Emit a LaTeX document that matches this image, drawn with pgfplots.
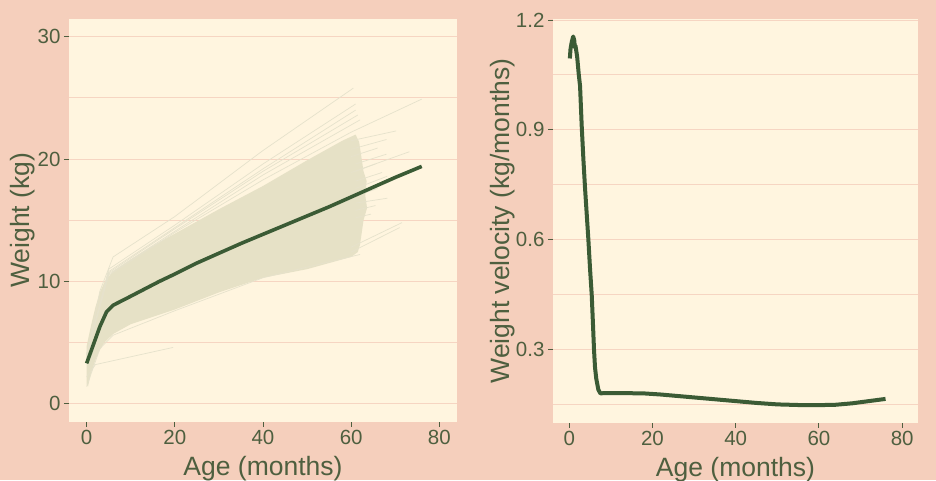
\documentclass[border=0pt]{standalone}
\usepackage{pgfplots}
\pgfplotsset{compat=1.18}
\usepackage{fontspec}
\setmainfont{Liberation Sans}
\definecolor{bgc}{HTML}{F5CFBC}
\definecolor{panel}{HTML}{FFF5DF}
\definecolor{gridc}{HTML}{F6D5C2}
\definecolor{txt}{HTML}{4E5F3F}
\definecolor{meanc}{HTML}{3B5B35}
\definecolor{band}{HTML}{E6E1C6}
\definecolor{strand}{HTML}{E6E2CC}
\begin{document}
\begin{tikzpicture}
\useasboundingbox (0pt,0pt) rectangle (936pt,480pt);
\fill[bgc] (0pt,0pt) rectangle (936pt,480pt);
\pgfplotsset{common/.style={scale only axis, anchor=south west,
  axis background/.style={fill=panel}, axis line style={draw=none},
  tick align=outside, major tick length=5pt, minor tick length=0pt,
  tick style={txt, line width=1pt}, xtick pos=bottom, ytick pos=left,
  ymajorgrids, yminorgrids, xmajorgrids=false,
  grid style={gridc, line width=1pt}, minor grid style={gridc, line width=1pt},
  ticklabel style={font=\fontsize{20.5}{24}\selectfont, text=txt},
  label style={font=\fontsize{26.5}{30}\selectfont, text=txt},
  /pgf/number format/assume math mode=true,
  xtick={0,20,40,60,80}, xlabel={Age (months)},
  xlabel style={at={(axis description cs:0.5,0)}, anchor=base, yshift=-53.3pt},
  clip=true}}
\begin{axis}[common, at={(69pt,58.3pt)}, width=388pt, height=402.7pt,
  xmin=-4, xmax=84, ymin=-1.47, ymax=31.45,
  ytick={0,10,20,30}, minor ytick={5,15,25},
  ylabel={Weight (kg)},
  ylabel style={at={(axis description cs:0,0.5)}, anchor=base, yshift=39.5pt}]
\addplot[fill=band, draw=none] coordinates {
(0,4.7) (1,6.4) (2,7.9) (3,9.1) (4,9.9) (5,10.4) (6,10.8) (8,11.3) (10,11.8) (15,12.9) (20,13.9) (30,15.9) (40,17.8) (50,19.9) (58,21.5) (61,22.0) (61.8,21.4) (62.3,20.2) (62.8,19.0) (63.5,18.2) (63.2,17.0) (63.6,16.0) (62.8,15.0) (62.4,14.0) (62,13.0) (61.5,12.4)
(60,12.0) (50,11.0) (40,10.3) (30,9.1) (20,7.7) (10,6.5) (6,5.7) (4,5.0) (3,4.4) (2,3.6) (1,2.5) (0.3,1.4) (0,1.6)} -- cycle;
\addplot[strand, line width=0.7pt] coordinates {(0,3.8) (3,9.2) (6,12.0) (20,15.3) (40,20.7) (60.5,25.8)};
\addplot[strand, line width=0.7pt] coordinates {(0,4.0) (5,11.0) (20,14.6) (40,19.6) (61,24.5)};
\addplot[strand, line width=0.7pt] coordinates {(0,4.0) (5,10.8) (20,14.4) (40,19.2) (61,24.0)};
\addplot[strand, line width=0.7pt] coordinates {(0,4.0) (5,10.7) (20,14.3) (40,19.0) (61.5,23.6)};
\addplot[strand, line width=0.7pt] coordinates {(0,4.0) (5,10.6) (20,14.1) (40,18.7) (62,23.2)};
\addplot[strand, line width=0.7pt] coordinates {(0,4.0) (5,10.5) (20,14.0) (40,18.3) (60,22.2) (76,24.9)};
\addplot[strand, line width=0.7pt] coordinates {(60,21.5) (70.2,22.3)};
\addplot[strand, line width=0.7pt] coordinates {(60,20.8) (68,21.6)};
\addplot[strand, line width=0.7pt] coordinates {(60,20.2) (66,20.9)};
\addplot[strand, line width=0.7pt] coordinates {(60,18.9) (73.2,20.6)};
\addplot[strand, line width=0.7pt] coordinates {(61,19.6) (68,20.4)};
\addplot[strand, line width=0.7pt] coordinates {(61,19.0) (65.5,19.6)};
\addplot[strand, line width=0.7pt] coordinates {(61,18.2) (67,18.9)};
\addplot[strand, line width=0.7pt] coordinates {(61,17.6) (68.2,18.6)};
\addplot[strand, line width=0.7pt] coordinates {(61,17.0) (66,17.6)};
\addplot[strand, line width=0.7pt] coordinates {(61,16.4) (68.2,16.8)};
\addplot[strand, line width=0.7pt] coordinates {(61,15.8) (65.5,16.2)};
\addplot[strand, line width=0.7pt] coordinates {(61,15.2) (64.5,15.5)};
\addplot[strand, line width=0.7pt] coordinates {(60,12.8) (71.5,14.8)};
\addplot[strand, line width=0.7pt] coordinates {(60,12.4) (71,14.4)};
\addplot[strand, line width=0.7pt] coordinates {(0,1.4) (3,4.5) (6,5.6) (20,7.6) (40,10.3) (62,12.2)};
\addplot[strand, line width=0.7pt] coordinates {(0,2.2) (2,3.2) (19.6,4.6)};
\addplot[meanc, line width=3.6pt] coordinates {
(0,3.3) (1.4,4.7) (3,6.3) (4.5,7.5) (6,8.05) (9,8.6) (16.5,10.0) (20,10.6) (25,11.5) (30,12.3) (35,13.1) (40,13.85) (45,14.6) (50,15.35) (55,16.1) (60,16.9) (65,17.7) (70,18.5) (76,19.4)};
\end{axis}
\begin{axis}[common, at={(553pt,57.3pt)}, width=365pt, height=403.4pt,
  xmin=-3.9, xmax=83.8, ymin=0.1, ymax=1.202,
  ytick={0.3,0.6,0.9,1.2}, minor ytick={0.15,0.45,0.75,1.05},
  yticklabel style={/pgf/number format/.cd, fixed, fixed zerofill, precision=1},
  ylabel={Weight velocity (kg/months)},
  ylabel style={at={(axis description cs:0,0.5)}, anchor=base, yshift=43.7pt}]
\addplot[meanc, line width=4pt, line join=round] coordinates {
(0.15,1.095) (0.3,1.12) (0.6,1.14) (0.95,1.155) (1.2,1.145) (1.35,1.125) (1.5,1.13) (1.9,1.10) (2.3,1.05) (2.6,1.02) (3.0,0.91) (3.4,0.82) (3.8,0.74) (4.2,0.67) (4.6,0.6) (5.0,0.52) (5.4,0.45) (5.7,0.37) (5.95,0.30) (6.2,0.25) (6.5,0.22) (7.0,0.19) (7.5,0.18) (8.5,0.181) (12,0.181) (18,0.18) (22,0.177) (28,0.171) (34,0.165) (40,0.159) (45,0.154) (50,0.150) (56,0.148) (60,0.148) (64,0.149) (68,0.153) (72,0.159) (76,0.165)};
\end{axis}
\end{tikzpicture}
\end{document}
